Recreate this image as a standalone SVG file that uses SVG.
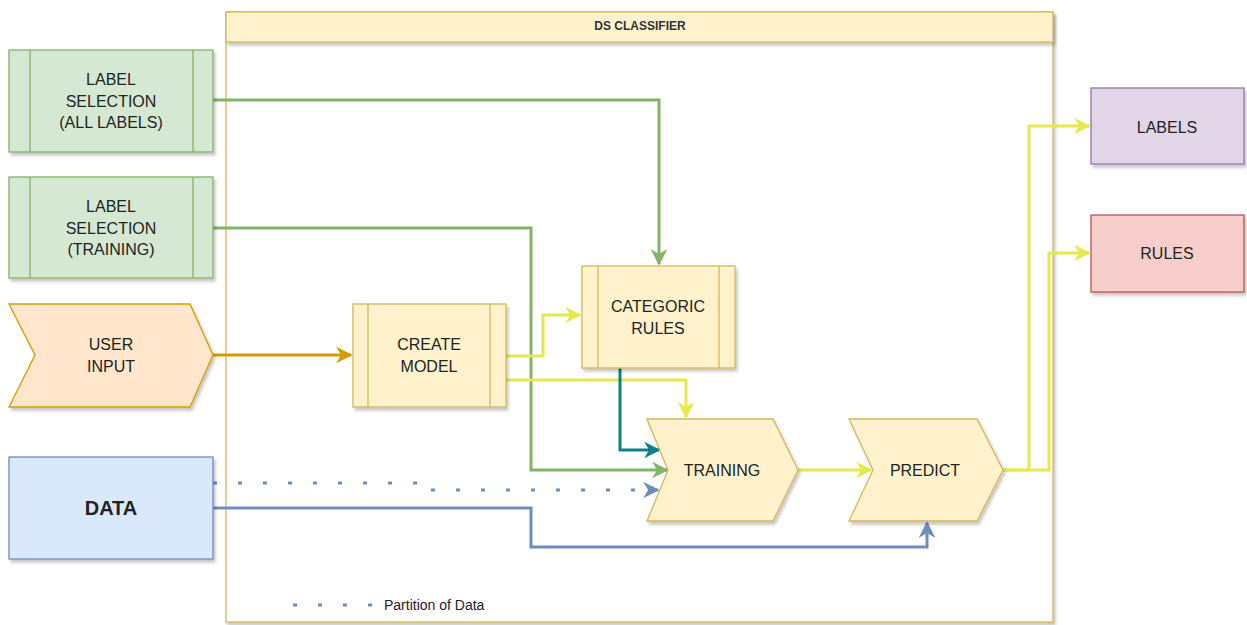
<svg xmlns="http://www.w3.org/2000/svg" width="1247" height="625" viewBox="0 0 1247 625">
<defs>
<filter id="sh" x="-10%" y="-10%" width="130%" height="130%">
<feDropShadow dx="2" dy="3" stdDeviation="1.5" flood-color="#000" flood-opacity="0.22"/>
</filter>
<marker id="aG" viewBox="0 0 10 10" refX="9" refY="5" markerWidth="5.5" markerHeight="5.5" orient="auto" markerUnits="strokeWidth"><path d="M0,0 L10,5 L0,10 L3,5 Z" fill="#82b366"/></marker>
<marker id="aY" viewBox="0 0 10 10" refX="9" refY="5" markerWidth="5.5" markerHeight="5.5" orient="auto" markerUnits="strokeWidth"><path d="M0,0 L10,5 L0,10 L3,5 Z" fill="#e8e84e"/></marker>
<marker id="aO" viewBox="0 0 10 10" refX="9" refY="5" markerWidth="5.5" markerHeight="5.5" orient="auto" markerUnits="strokeWidth"><path d="M0,0 L10,5 L0,10 L3,5 Z" fill="#d79b00"/></marker>
<marker id="aT" viewBox="0 0 10 10" refX="9" refY="5" markerWidth="5.5" markerHeight="5.5" orient="auto" markerUnits="strokeWidth"><path d="M0,0 L10,5 L0,10 L3,5 Z" fill="#0e8088"/></marker>
<marker id="aB" viewBox="0 0 10 10" refX="9" refY="5" markerWidth="5.5" markerHeight="5.5" orient="auto" markerUnits="strokeWidth"><path d="M0,0 L10,5 L0,10 L3,5 Z" fill="#6c8ebf"/></marker>
</defs>
<style>
text{font-family:"Liberation Sans",Arial,sans-serif;fill:#222;text-anchor:middle;dominant-baseline:central}
.t{font-size:16px}
.green{fill:#d5e8d4;stroke:#82b366;stroke-width:1.3}
.yel{fill:#fff2cc;stroke:#d6b656;stroke-width:1.3}
.or{fill:#ffe6cc;stroke:#d79b00;stroke-width:1.3}
.blu{fill:#dae8fc;stroke:#6c8ebf;stroke-width:1.3}
.pur{fill:#e1d5e7;stroke:#9673a6;stroke-width:1.3}
.red{fill:#f8cecc;stroke:#b85450;stroke-width:1.3}
.c{fill:none;stroke-width:3;stroke-linejoin:miter}
.dot{stroke-dasharray:4 21}
</style>
<rect width="1247" height="625" fill="#fff"/>

<g id="container">
<rect x="226" y="12" width="827" height="610" fill="#fff" stroke="#d6b656" stroke-width="1.3" filter="url(#sh)"/>
<rect x="226" y="12" width="827" height="30" class="yel" filter="url(#sh)"/>
<text x="640" y="26" style="font-size:12px;font-weight:bold;fill:#333">DS CLASSIFIER</text>
</g>

<g id="connectors">
<path class="c" stroke="#82b366" d="M213,100 H659 V264" marker-end="url(#aG)"/>
<path class="c" stroke="#82b366" d="M213,228 H531 V470 H667" marker-end="url(#aG)"/>
<path class="c" stroke="#d79b00" d="M213,355 H351" marker-end="url(#aO)"/>
<path class="c" stroke="#e8e84e" d="M506,356 H543 V315 H580" marker-end="url(#aY)"/>
<path class="c" stroke="#e8e84e" d="M506,380 H686 V417" marker-end="url(#aY)"/>
<path class="c" stroke="#0e8088" d="M620,368 V450 H659" marker-end="url(#aT)"/>
<path class="c dot" stroke="#6c8ebf" d="M213,483 H428 V490 H658" marker-end="url(#aB)"/>
<path class="c" stroke="#6c8ebf" d="M213,508 H531 V547 H927 V523" marker-end="url(#aB)"/>
<path class="c" stroke="#e8e84e" d="M798,470 H871" marker-end="url(#aY)"/>
<path class="c" stroke="#e8e84e" d="M1003,470 H1029 V126 H1089" marker-end="url(#aY)"/>
<path class="c" stroke="#e8e84e" d="M1003,470 H1049 V253 H1089" marker-end="url(#aY)"/>
</g>

<g id="label-selection-all">
<rect x="9" y="50" width="204" height="102" class="green" filter="url(#sh)"/>
<path d="M30,50 V152 M193,50 V152" stroke="#82b366" stroke-width="1.3"/>
<text class="t" x="111" y="79">LABEL</text>
<text class="t" x="111" y="101">SELECTION</text>
<text class="t" x="111" y="122">(ALL LABELS)</text>
</g>

<g id="label-selection-training">
<rect x="9" y="177" width="204" height="101" class="green" filter="url(#sh)"/>
<path d="M30,177 V278 M193,177 V278" stroke="#82b366" stroke-width="1.3"/>
<text class="t" x="111" y="206">LABEL</text>
<text class="t" x="111" y="228">SELECTION</text>
<text class="t" x="111" y="249">(TRAINING)</text>
</g>

<g id="user-input">
<polygon points="9,304 190,304 213,355 190,407 9,407 35,355" class="or" filter="url(#sh)"/>
<text class="t" x="111" y="344">USER</text>
<text class="t" x="111" y="366">INPUT</text>
</g>

<g id="data">
<rect x="9" y="457" width="204" height="102" class="blu" filter="url(#sh)"/>
<text x="111" y="508" style="font-size:20px;font-weight:bold">DATA</text>
</g>

<g id="create-model">
<rect x="353" y="304" width="153" height="103" class="yel" filter="url(#sh)"/>
<path d="M368,304 V407 M490,304 V407" stroke="#d6b656" stroke-width="1.3"/>
<text class="t" x="429" y="344">CREATE</text>
<text class="t" x="429" y="366">MODEL</text>
</g>

<g id="categoric-rules">
<rect x="582" y="266" width="153" height="102" class="yel" filter="url(#sh)"/>
<path d="M598,266 V368 M719,266 V368" stroke="#d6b656" stroke-width="1.3"/>
<text class="t" x="658" y="306">CATEGORIC</text>
<text class="t" x="658" y="328">RULES</text>
</g>

<g id="training">
<polygon points="647,419 773,419 798,470 773,521 647,521 668,470" class="yel" filter="url(#sh)"/>
<text class="t" x="722" y="470">TRAINING</text>
</g>

<g id="predict">
<polygon points="849,419 977,419 1003,470 977,521 849,521 873,470" class="yel" filter="url(#sh)"/>
<text class="t" x="925" y="470">PREDICT</text>
</g>

<g id="labels">
<rect x="1091" y="88" width="153" height="76" class="pur" filter="url(#sh)"/>
<text class="t" x="1167" y="127">LABELS</text>
</g>

<g id="rules">
<rect x="1091" y="215" width="153" height="77" class="red" filter="url(#sh)"/>
<text class="t" x="1167" y="253">RULES</text>
</g>

<g id="legend">
<path class="dot" d="M293,605 H378" fill="none" stroke="#6c8ebf" stroke-width="3"/>
<text x="384" y="605" style="font-size:14px;text-anchor:start">Partition of Data</text>
</g>
</svg>
